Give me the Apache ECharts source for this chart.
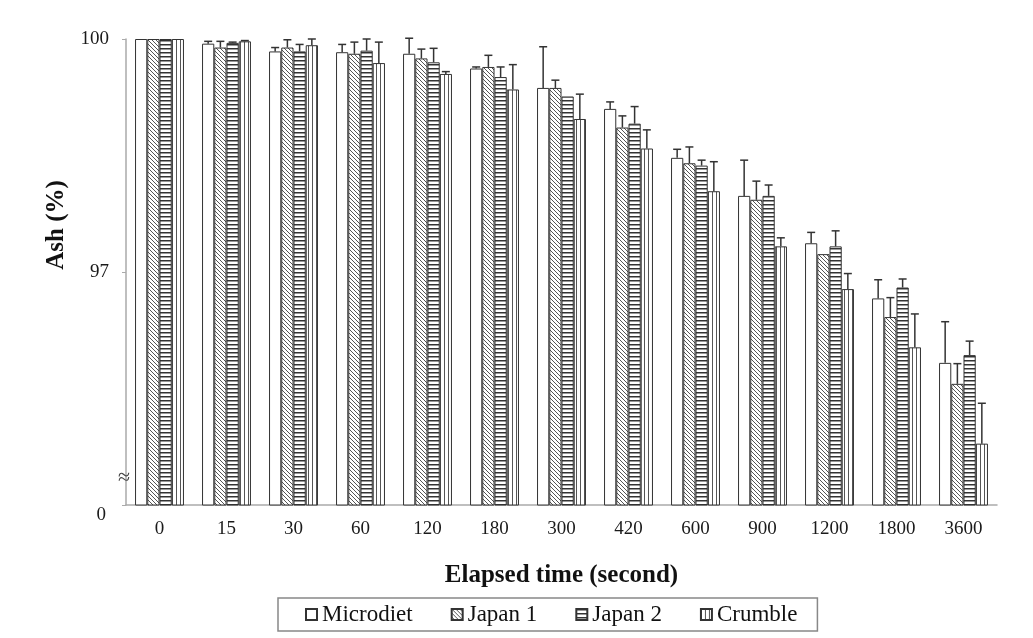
<!DOCTYPE html>
<html>
<head>
<meta charset="utf-8">
<script src="https://cdn.jsdelivr.net/npm/echarts@6/dist/echarts.min.js"></script>
<style>html,body{margin:0;padding:0;background:#fff;}#c{width:1033px;height:638px;}</style>
</head>
<body>
<div id="c"></div>
<script>
const categories = ['0','15','30','60','120','180','300','420','600','900','1200','1800','3600'];
const seriesNames = ['Microdiet','Japan 1','Japan 2','Crumble'];
const microdiet = [100, 99.94, 99.84, 99.83, 99.81, 99.62, 99.37, 99.10, 98.47, 97.98, 97.37, 96.66, 95.83];
const japan1    = [100, 99.89, 99.89, 99.81, 99.75, 99.64, 99.37, 98.86, 98.40, 97.93, 97.23, 96.42, 95.56];
const japan2    = [100, 99.95, 99.84, 99.85, 99.70, 99.51, 99.26, 98.91, 98.37, 97.98, 97.33, 96.80, 95.93];
const crumble   = [100, 99.97, 99.92, 99.69, 99.55, 99.35, 98.97, 98.59, 98.04, 97.33, 96.78, 96.03, 94.79];
const errMicrodiet = [0, 0.03, 0.05, 0.10, 0.20, 0.02, 0.53, 0.09, 0.11, 0.46, 0.14, 0.24, 0.53];
const errJapan1    = [0, 0.08, 0.10, 0.15, 0.12, 0.15, 0.10, 0.15, 0.21, 0.24, 0, 0.25, 0.26];
const errJapan2    = [0, 0.01, 0.09, 0.15, 0.18, 0.13, 0, 0.22, 0.07, 0.14, 0.20, 0.11, 0.18];
const errCrumble   = [0, 0.01, 0.08, 0.27, 0.03, 0.32, 0.32, 0.24, 0.38, 0.11, 0.20, 0.43, 0.52];
const yTicks = [94, 97, 100];
const yTickLabels = ['0', '97', '100'];

const values = [microdiet, japan1, japan2, crumble];
const errors = [errMicrodiet, errJapan1, errJapan2, errCrumble];
const GAP = 0.27;
const FONT = '"Liberation Serif", "Times New Roman", serif';

function pattern(kind) {
  const c = document.createElement('canvas');
  const s = 4;
  c.width = s; c.height = s;
  const g = c.getContext('2d');
  g.fillStyle = '#fff';
  g.fillRect(0, 0, s, s);
  if (kind === 'diag') {
    g.strokeStyle = '#555';
    g.lineWidth = 1;
    g.beginPath();
    g.moveTo(-1, -1); g.lineTo(s + 1, s + 1);
    g.moveTo(-1, s - 1); g.lineTo(1, s + 1);
    g.moveTo(s - 1, -1); g.lineTo(s + 1, 1);
    g.stroke();
  } else if (kind === 'horiz') {
    g.fillStyle = '#333';
    g.fillRect(0, 0, s, 1);
    g.fillStyle = '#999';
    g.fillRect(0, 1, s, 1);
  } else if (kind === 'vert') {
    g.fillStyle = '#555';
    g.fillRect(0, 0, 1, s);
  }
  return { image: c, repeat: 'repeat' };
}
const fills = ['#ffffff', pattern('diag'), pattern('horiz'), pattern('vert')];

const errData = [];
errors.forEach((arr, si) => arr.forEach((e, ci) => errData.push([ci, values[si][ci], e, si])));

const chart = echarts.init(document.getElementById('c'), null, { renderer: 'canvas' });
const option = {
  backgroundColor: '#fff',
  animation: false,
  grid: { left: 126, right: 36, top: 39, bottom: 133 },
  legend: {
    data: seriesNames,
    left: 278, top: 598,
    itemWidth: 11, itemHeight: 11, itemGap: 38,
    icon: 'rect',
    borderColor: '#888', borderWidth: 1.5,
    padding: [5, 20, 5, 27],
    textStyle: { fontFamily: FONT, fontSize: 23, color: '#111' }
  },
  xAxis: {
    type: 'category',
    data: categories,
    name: 'Elapsed time (second)',
    nameLocation: 'middle',
    nameGap: 58,
    nameTextStyle: { fontFamily: FONT, fontSize: 25, fontWeight: 'bold', color: '#111' },
    axisLine: { lineStyle: { color: '#aaa', width: 1.5 } },
    axisTick: { show: false },
    axisLabel: { fontFamily: FONT, fontSize: 19, color: '#1a1a1a', margin: 15 }
  },
  yAxis: {
    type: 'value',
    min: 94, max: 100, interval: 3,
    name: 'Ash (%)',
    nameLocation: 'middle',
    nameGap: 57,
    nameTextStyle: { fontFamily: FONT, fontSize: 25, fontWeight: 'bold', color: '#111', padding: [0, 0, 0, 94] },
    axisLine: { show: true, lineStyle: { color: '#aaa', width: 1.5 } },
    axisTick: { show: true, length: 4, lineStyle: { color: '#aaa' } },
    splitLine: { show: false },
    axisLabel: {
      fontFamily: FONT, fontSize: 19, color: '#1a1a1a', margin: 17,
      formatter: v => {
        const i = yTicks.indexOf(v);
        const t = i >= 0 ? yTickLabels[i] : '';
        return v === 94 ? '{z|' + t + '}' : t;
      },
      rich: { z: { fontFamily: FONT, fontSize: 19, color: '#1a1a1a', padding: [20, 3, 0, 0] } }
    }
  },
  graphic: [{
    type: 'text', left: 118, top: 467, z: 10,
    style: { text: '\u2248', fontSize: 22, fill: '#444', fontFamily: FONT }
  }],
  series: seriesNames.map((n, i) => ({
    name: n,
    type: 'bar',
    data: values[i],
    barGap: '0%',
    barCategoryGap: (GAP * 100) + '%',
    itemStyle: { color: fills[i], borderColor: '#333', borderWidth: 1 }
  })).concat([{
    type: 'custom',
    name: 'err',
    z: 5,
    data: errData,
    encode: { x: 0, y: 1 },
    renderItem: function (params, api) {
      const ci = api.value(0), v = api.value(1), e = api.value(2), si = api.value(3);
      if (!(e > 0)) return null;
      const band = api.size([1, 0])[0];
      const barW = band * (1 - GAP) / 4;
      const p0 = api.coord([ci, v]);
      const p1 = api.coord([ci, v + e]);
      const x = p0[0] - 2 * barW + (si + 0.5) * barW;
      return {
        type: 'group',
        children: [
          { type: 'line', shape: { x1: x, y1: p0[1], x2: x, y2: p1[1] }, style: { stroke: '#333', lineWidth: 1.5 } },
          { type: 'line', shape: { x1: x - 4, y1: p1[1], x2: x + 4, y2: p1[1] }, style: { stroke: '#333', lineWidth: 1.5 } }
        ]
      };
    }
  }])
};
chart.setOption(option);
</script>
</body>
</html>
